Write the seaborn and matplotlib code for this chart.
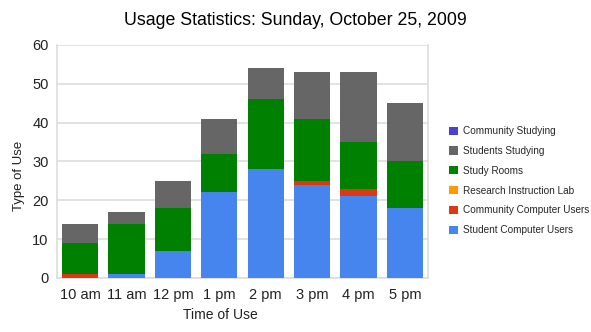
import numpy as np
import pandas as pd
import matplotlib
matplotlib.use("Agg")
import matplotlib.pyplot as plt
from matplotlib.patches import Patch
import seaborn as sns

times = ["10 am", "11 am", "12 pm", "1 pm", "2 pm", "3 pm", "4 pm", "5 pm"]
student_computer = [0, 1, 7, 22, 28, 24, 21, 18]
community_computer = [1, 0, 0, 0, 0, 1, 2, 0]
research_lab = [0, 0, 0, 0, 0, 0, 0, 0]
study_rooms = [8, 13, 11, 10, 18, 16, 12, 12]
students_studying = [5, 3, 7, 9, 8, 12, 18, 15]
community_studying = [0, 0, 0, 0, 0, 0, 0, 0]

series_names = ["Student Computer Users", "Community Computer Users", "Research Instruction Lab",
                "Study Rooms", "Students Studying", "Community Studying"]
series_vals = [student_computer, community_computer, research_lab,
               study_rooms, students_studying, community_studying]
colors = ["#4684EE", "#DC3912", "#FF9900", "#008000", "#666666", "#4942CC"]

sns.set_style("white")
plt.rcParams["font.family"] = ["Liberation Sans", "DejaVu Sans"]

fig = plt.figure(figsize=(5.91, 3.32), dpi=100)
ax = fig.add_axes([0.0964, 0.163, 0.628, 0.7015])

cum = np.cumsum(np.array(series_vals), axis=0)
for i in range(len(series_names) - 1, -1, -1):
    df = pd.DataFrame({"time": times, "value": cum[i]})
    sns.barplot(data=df, x="time", y="value", color=colors[i], ax=ax,
                width=0.78, saturation=1, linewidth=0, zorder=3)

ax.set_ylim(0, 60)
ax.set_xlim(-0.5, 7.5)
ax.set_yticks(range(0, 61, 10))
ax.yaxis.grid(True, color="#dddddd", linewidth=1.2, zorder=0)
ax.set_axisbelow(True)
ax.spines["top"].set_visible(False)
for s in ["left", "right", "bottom"]:
    ax.spines[s].set_color("#dddddd")
    ax.spines[s].set_linewidth(1.2)
ax.tick_params(axis="x", length=0, labelsize=10.5, colors="#222222", pad=7)
ax.tick_params(axis="y", length=4, width=1.2, color="#dddddd", labelsize=10.5,
               labelcolor="#222222", pad=2)
ax.set_xticks(np.arange(-0.5, 8, 1), minor=True)
ax.tick_params(axis="x", which="minor", length=4, color="#dddddd", width=1.2)

ax.set_xlabel("Time of Use", fontsize=10, color="#222222", va="center", ha="center")
ax.set_ylabel("Type of Use", fontsize=9.5, color="#222222", va="center", ha="center")
ax.xaxis.set_label_coords(0.44, -37 / 233)
ax.yaxis.set_label_coords(-38 / 371, 0.438)
fig.suptitle("Usage Statistics: Sunday, October 25, 2009", fontsize=12.8, x=0.5, y=0.965, color="#000000")

handles = [Patch(facecolor=colors[i], edgecolor="none") for i in range(len(colors) - 1, -1, -1)]
labels = [series_names[i] for i in range(len(series_names) - 1, -1, -1)]
leg = fig.legend(handles, labels, loc="upper left", bbox_to_anchor=(0.745, 0.647),
                 frameon=False, fontsize=7.2, handlelength=0.9, handleheight=0.9,
                 handletextpad=0.5, labelspacing=0.98)

fig.savefig("out.png", dpi=100)
